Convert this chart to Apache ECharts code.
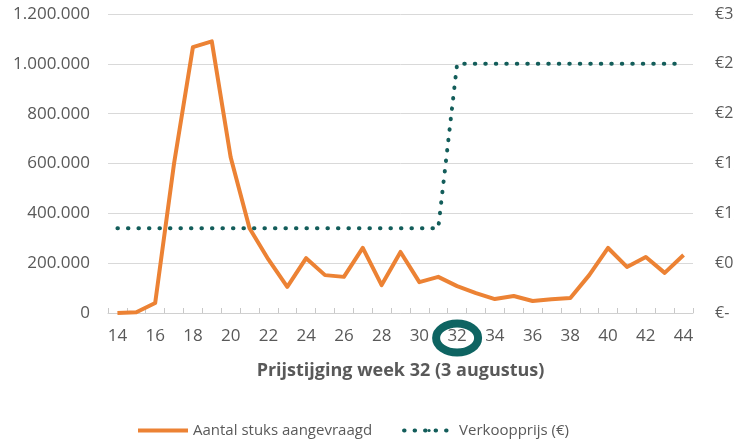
<!DOCTYPE html>
<html>
<head>
<meta charset="utf-8">
<script src="https://cdn.jsdelivr.net/npm/echarts@6/dist/echarts.min.js"></script>
<style>
  html, body { margin: 0; padding: 0; background: #fff; }
  #chart { width: 734px; height: 441px; }
</style>
</head>
<body>
<div id="chart"></div>
<script>
// week numbers on the x axis
const weeks = ['14', '15', '16', '17', '18', '19', '20', '21', '22', '23', '24', '25', '26', '27', '28', '29',
  '30', '31', '32', '33', '34', '35', '36', '37', '38', '39', '40', '41', '42', '43', '44']

// Aantal stuks aangevraagd (left axis)
const demand = [0, 3000, 40000, 600000, 1067000, 1090000, 625000, 340000, 215000, 105000, 220000,
  152000, 145000, 261000, 112000, 245000, 124000, 145000, 108000, 80000, 56000, 68000, 48000,
  55000, 60000, 152000, 261000, 185000, 225000, 161000, 233000]

// Verkoopprijs in euro (right axis)
const price = [0.85, 0.85, 0.85, 0.85, 0.85, 0.85, 0.85, 0.85, 0.85, 0.85, 0.85, 0.85, 0.85, 0.85,
  0.85, 0.85, 0.85, 0.85, 2.5, 2.5, 2.5, 2.5, 2.5, 2.5, 2.5, 2.5, 2.5, 2.5, 2.5, 2.5, 2.5]

const priceWeek = '32'

const textColor = '#595959'
const orange = '#ec8234'
const teal = '#135d5a'
const font = '"Open Sans", sans-serif'

function fmtThousands(v) {
  return String(v).replace(/\B(?=(\d{3})+(?!\d))/g, '.')
}

function fmtEuro(v) {
  if (v === 0) return '€-'
  return '€' + v.toFixed(2).replace('.', ',')
}

const chart = echarts.init(document.getElementById('chart'), null, { renderer: 'canvas' })

const option = {
  backgroundColor: '#fff',
  animation: false,
  textStyle: { fontFamily: font },
  grid: { left: 108, right: 41, top: 14, bottom: 128, outerBoundsMode: 'none', containLabel: false },
  legend: {
    left: 131,
    top: 418,
    itemWidth: 50,
    itemHeight: 4,
    itemGap: 30,
    lineStyle: { width: 4 },
    textStyle: { color: textColor, fontSize: 15, fontFamily: font },
    data: ['Aantal stuks aangevraagd', 'Verkoopprijs (€)']
  },
  xAxis: {
    type: 'category',
    data: weeks,
    boundaryGap: true,
    name: 'Prijstijging week 32 (3 augustus)',
    nameLocation: 'middle',
    nameGap: 49,
    nameTextStyle: { color: textColor, fontSize: 18, fontWeight: 'bold', fontFamily: font },
    axisLine: { lineStyle: { color: '#d0d0d0', width: 1 } },
    axisTick: { show: true, inside: true, length: 5, interval: 0, lineStyle: { color: '#c8c8c8' } },
    axisLabel: { interval: 1, color: textColor, fontSize: 17, margin: 15, fontFamily: font },
    splitLine: { show: false }
  },
  yAxis: [
    {
      type: 'value',
      min: 0,
      max: 1200000,
      interval: 200000,
      axisLine: { show: false },
      axisTick: { show: false },
      axisLabel: { color: textColor, fontSize: 17, margin: 18, fontFamily: font, formatter: fmtThousands },
      splitLine: { lineStyle: { color: '#d9d9d9', width: 1 } }
    },
    {
      type: 'value',
      min: 0,
      max: 3,
      interval: 0.5,
      position: 'right',
      axisLine: { show: false },
      axisTick: { show: false },
      axisLabel: { color: textColor, fontSize: 16, margin: 22, fontFamily: font, align: 'left', formatter: fmtEuro },
      splitLine: { show: false }
    }
  ],
  series: [
    {
      name: 'Aantal stuks aangevraagd',
      type: 'line',
      yAxisIndex: 0,
      data: demand,
      symbol: 'none',
      lineStyle: { color: orange, width: 4, join: 'round' },
      itemStyle: { color: orange }
    },
    {
      name: 'Verkoopprijs (€)',
      type: 'line',
      yAxisIndex: 1,
      data: price,
      symbol: 'none',
      lineStyle: { color: teal, width: 4, type: [0.5, 10], cap: 'round' },
      itemStyle: { color: teal }
    }
  ]
}

chart.setOption(option)

// ring drawn round the week of the price rise
const cx = chart.convertToPixel({ xAxisIndex: 0 }, priceWeek)
const axisY = chart.convertToPixel({ yAxisIndex: 0 }, 0)
chart.setOption({
  graphic: [{
    type: 'ellipse',
    shape: { cx: cx, cy: axisY + 25, rx: 21, ry: 14.5 },
    style: { fill: null, stroke: '#0e6462', lineWidth: 8 },
    z: 100
  }]
})
</script>
</body>
</html>
